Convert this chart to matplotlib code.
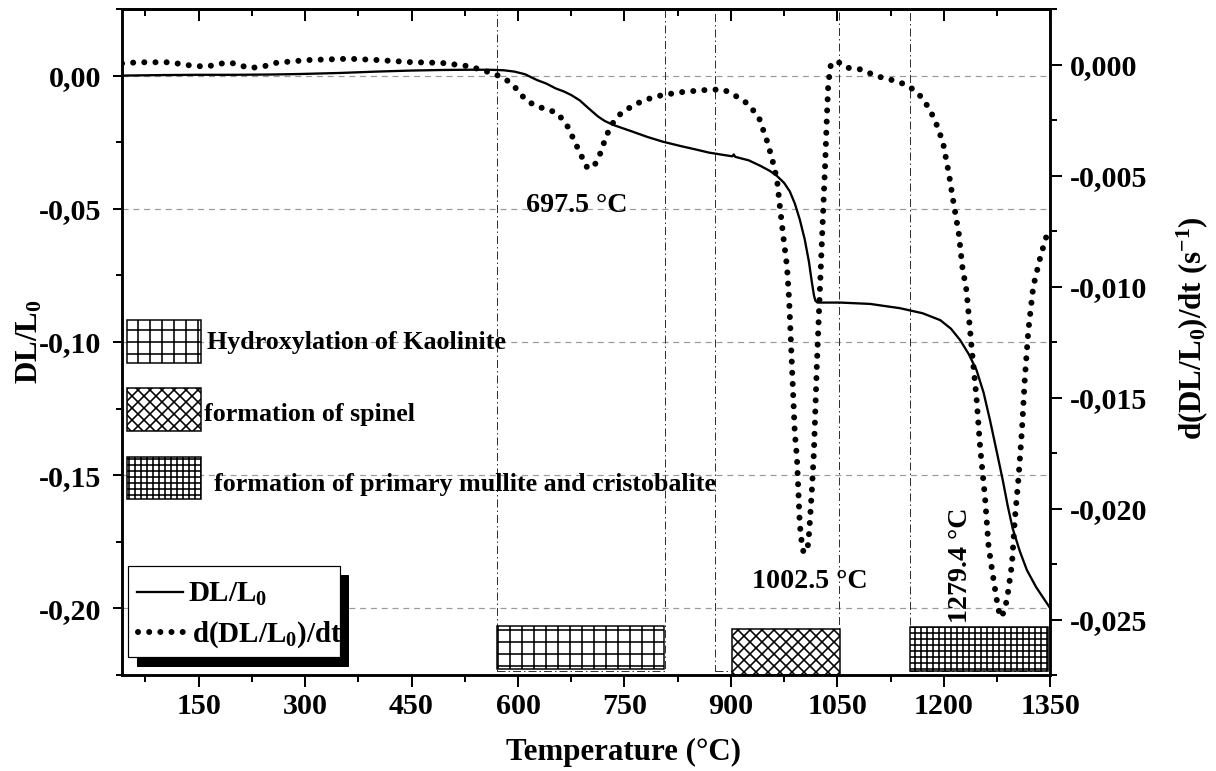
import matplotlib
matplotlib.use('Agg')
import matplotlib.pyplot as plt
from matplotlib.patches import Rectangle
from matplotlib.ticker import MultipleLocator, FuncFormatter

# dilatometrie : retrait DL/L0 et sa derivee
temp_dl = [42, 100, 150, 200, 250, 293, 350, 400, 450, 490, 530, 560, 580, 595,
           610, 627, 640, 653, 665, 675, 687, 697, 706, 713, 722, 734, 748, 761,
           782, 804, 830, 850, 869, 890, 902, 904, 906, 925, 941, 955, 965, 975,
           983, 990, 997, 1004, 1010, 1014, 1017, 1019, 1022, 1054, 1096, 1138,
           1170, 1195, 1210, 1223, 1235, 1246, 1256, 1265, 1274, 1283, 1290,
           1297, 1307, 1317, 1330, 1340, 1350]
dl = [0.0000, 0.0002, 0.0003, 0.0003, 0.0004, 0.0006, 0.0010, 0.0015, 0.0019,
      0.0021, 0.0022, 0.0022, 0.0020, 0.0015, 0.0005, -0.0017, -0.0030, -0.0048,
      -0.0060, -0.0073, -0.0093, -0.0117, -0.0138, -0.0154, -0.0170, -0.0185,
      -0.0198, -0.0210, -0.0230, -0.0248, -0.0265, -0.0277, -0.0289, -0.0298,
      -0.0303, -0.0296, -0.0305, -0.0318, -0.0338, -0.0358, -0.0377, -0.0403,
      -0.0435, -0.0480, -0.0540, -0.0615, -0.0700, -0.0775, -0.0825, -0.0845,
      -0.0852, -0.0852, -0.0857, -0.0873, -0.0892, -0.0918, -0.0950, -0.0993,
      -0.1045, -0.1105, -0.1190, -0.1293, -0.1405, -0.1518, -0.1615, -0.1700,
      -0.1785, -0.1856, -0.1920, -0.1960, -0.2000]

temp_d = [42, 65, 87, 110, 132, 160, 188, 200, 221, 240, 260, 303, 362, 403,
          447, 493, 529, 550, 570, 584, 597, 611, 627, 640, 656, 670, 681, 692,
          698, 708, 716, 724, 732, 745, 761, 778, 804, 834, 864, 888, 901, 923,
          939, 952, 960, 965, 969, 974, 979, 982, 984, 986, 988, 990, 993, 995,
          997, 1000, 1002.5, 1006, 1009, 1011, 1014, 1017, 1021, 1024.5, 1028,
          1031, 1033, 1035, 1037, 1040, 1043, 1047, 1052, 1060, 1068, 1083,
          1105, 1127, 1148, 1164, 1180, 1191, 1199, 1207, 1213, 1221, 1226,
          1232, 1239, 1246, 1251, 1258, 1263, 1270, 1276, 1279.4, 1284, 1289,
          1296, 1300, 1305, 1310, 1314, 1319, 1326, 1335, 1342, 1347]
ddl = [0.00005, 0.0001, 0.0001, 0.0001, -0.00002, -0.0001, 0.00008, 0.00005,
       -0.00016, -0.0001, 0.00008, 0.0002, 0.00026, 0.0002, 0.00011, 0.00007,
       -0.00007, -0.00025, -0.00047, -0.0007, -0.00107, -0.0016, -0.0019,
       -0.0020, -0.0022, -0.0028, -0.00355, -0.0043, -0.00468, -0.00453,
       -0.0040, -0.00325, -0.0027, -0.0022, -0.00187, -0.0016, -0.00137,
       -0.00123, -0.00115, -0.00112, -0.0013, -0.00175, -0.00235, -0.00355,
       -0.0045, -0.0052, -0.0064, -0.0078, -0.0091, -0.0106, -0.0121, -0.0136,
       -0.0151, -0.0166, -0.0177, -0.0192, -0.0207, -0.0216, -0.0220, -0.0219,
       -0.0216, -0.0207, -0.0192, -0.0174, -0.0136, -0.0108, -0.0081, -0.0058,
       -0.0043, -0.0025, -0.0010, -0.0001, 0.0001, 0.00013, 0.0001, -0.0001,
       -0.00017, -0.00022, -0.00052, -0.0007, -0.00092, -0.0013, -0.0020,
       -0.0028, -0.00355, -0.0049, -0.0061, -0.0076, -0.0091, -0.0102, -0.0127,
       -0.0150, -0.0172, -0.0195, -0.0217, -0.0232, -0.0244, -0.0249, -0.0247,
       -0.0241, -0.0225, -0.0205, -0.0187, -0.0165, -0.0142, -0.0120, -0.0100,
       -0.0088, -0.0080, -0.0075]

# zones de transformation (debut, fin) en degC
zones = [(570, 807), (878, 1052), (1152, 1350)]
boxes = [(570, 806, -0.2228, -0.2065, '+'),
         (901, 1053, -0.2250, -0.2078, 'xx'),
         (1152, 1347, -0.2235, -0.2068, '++')]
zone_labels = ['Hydroxylation of Kaolinite', 'formation of spinel',
               'formation of primary mullite and cristobalite']
peaks = ['697.5 °C', '1002.5 °C', '1279.4 °C']

plt.rcParams['font.family'] = ['Liberation Serif', 'DejaVu Serif']
plt.rcParams['font.weight'] = 'bold'
plt.rcParams['mathtext.fontset'] = 'custom'
plt.rcParams['mathtext.rm'] = 'Liberation Serif:bold'
plt.rcParams['mathtext.bf'] = 'Liberation Serif:bold'
plt.rcParams['mathtext.it'] = 'Liberation Serif:bold:italic'
plt.rcParams['mathtext.default'] = 'bf'
plt.rcParams['hatch.linewidth'] = 1.6
plt.rcParams['hatch.color'] = 'black'

DOTS = (0, (0.01, 1.85))

fig = plt.figure(figsize=(1216 / 72, 771 / 72), dpi=72)
ax = fig.add_axes([0.10033, 0.12451, 0.76340, 0.86381])
ax2 = ax.twinx()

ax.set_xlim(42, 1350)
ax.set_ylim(-0.225, 0.025)
ax2.set_ylim(-0.0275, 0.0025)

# grille horizontale
ax.set_yticks([0, -0.05, -0.10, -0.15, -0.20])
ax.yaxis.grid(True, linestyle=(0, (5, 4)), color='#9a9a9a', lw=1.2)
ax.set_axisbelow(True)

# zones en tirets-points + rectangles hachures
for x0, x1 in zones:
    ax.add_patch(Rectangle((x0, -0.2235), x1 - x0, 0.2485, fill=False,
                           edgecolor='#333333', lw=1.0,
                           linestyle=(0, (8, 3, 1.5, 3)), zorder=1))
for x0, x1, y0, y1, h in boxes:
    ax.add_patch(Rectangle((x0, y0), x1 - x0, y1 - y0, facecolor='white',
                           edgecolor='black', lw=1.5, hatch=h, zorder=2))

ax.plot(temp_dl, dl, color='black', lw=2.3, zorder=3)
ax2.plot(temp_d, ddl, color='black', lw=6, linestyle=DOTS,
         dash_capstyle='round', zorder=3)

# petites boites de legende des zones
key_y = [(0.469, 0.533), (0.3668, 0.4305), (0.2638, 0.3278)]
text_pos = [(0.0916, 0.4895), (0.0883, 0.3819), (0.0991, 0.2767)]
for (y0, y1), (_, _, _, _, h), lab, (tx, ty) in zip(key_y, boxes, zone_labels, text_pos):
    ax.add_patch(Rectangle((0.0057, y0), 0.0798, y1 - y0, transform=ax.transAxes,
                           facecolor='white', edgecolor='black', lw=1.5,
                           hatch=h, zorder=4))
    ax.text(tx, ty, lab, transform=ax.transAxes, fontsize=26,
            fontweight='bold', va='baseline', ha='left', zorder=5)

# temperatures des pics
ax.text(683, -0.0511, peaks[0], fontsize=28, ha='center', va='baseline')
ax.text(1011, -0.1925, peaks[1], fontsize=28, ha='center', va='baseline')
ax.text(1223, -0.1837, peaks[2], fontsize=28, ha='center', va='center',
        rotation=90)

# legende avec ombre
ax2.add_patch(Rectangle((0.0157, 0.0139), 0.228, 0.1366, transform=ax2.transAxes,
                        facecolor='black', edgecolor='black', zorder=10))
ax2.add_patch(Rectangle((0.0068, 0.027), 0.228, 0.1366, transform=ax2.transAxes,
                        facecolor='white', edgecolor='black', lw=1.2, zorder=11))
ax2.plot([0.0165, 0.0657], [0.1246, 0.1246], transform=ax2.transAxes,
         color='black', lw=2.3, zorder=12, clip_on=False)
ax2.plot([0.01724, 0.0668], [0.0646, 0.0646], transform=ax2.transAxes,
         color='black', lw=6, linestyle=DOTS, dash_capstyle='round',
         zorder=12, clip_on=False)
ax2.text(0.0714, 0.1096, 'DL/L$_0$', transform=ax2.transAxes, fontsize=29,
         va='baseline', zorder=13)
ax2.text(0.075, 0.0495, 'd(DL/L$_0$)/dt', transform=ax2.transAxes, fontsize=29,
         va='baseline', zorder=13)

# axes et graduations
ax.xaxis.set_major_locator(MultipleLocator(150))
ax.xaxis.set_minor_locator(MultipleLocator(75))
ax.yaxis.set_minor_locator(MultipleLocator(0.025))
ax2.set_yticks([0, -0.005, -0.010, -0.015, -0.020, -0.025])
ax2.yaxis.set_minor_locator(MultipleLocator(0.0025))

ax.yaxis.set_major_formatter(FuncFormatter(lambda v, p: f'{round(v, 3):.2f}'.replace('.', ',')))
ax2.yaxis.set_major_formatter(FuncFormatter(lambda v, p: f'{round(v, 4):.3f}'.replace('.', ',')))

ax.tick_params(axis='x', which='major', direction='out', length=12, width=2,
               pad=6, labelsize=30)
ax.tick_params(axis='x', which='minor', direction='out', length=7, width=2)
ax.tick_params(axis='y', which='major', direction='out', length=9, width=2,
               pad=12, labelsize=30)
ax.tick_params(axis='y', which='minor', direction='out', length=6, width=2)
ax2.tick_params(axis='y', which='major', direction='out', length=12, width=2,
                pad=8, labelsize=30)
ax2.tick_params(axis='y', which='minor', direction='out', length=7, width=2)

top = ax.secondary_xaxis('top')
top.xaxis.set_major_locator(MultipleLocator(150))
top.xaxis.set_minor_locator(MultipleLocator(75))
top.tick_params(which='major', direction='in', length=12, width=2, labeltop=False)
top.tick_params(which='minor', direction='in', length=7, width=2)
top.spines['top'].set_linewidth(2.5)

for a in (ax, ax2):
    for s in a.spines.values():
        s.set_linewidth(2.5)

ax.set_xlabel('Temperature (°C)', fontsize=31, fontweight='bold')
ax.xaxis.set_label_coords(0.54, -0.095)
ax.set_ylabel('DL/L$_0$', fontsize=31, fontweight='bold')
ax.yaxis.set_label_coords(-0.084, 0.5)
ax2.set_ylabel('d(DL/L$_0$)/dt (s$^{-1}$)', fontsize=31, fontweight='bold')
ax2.yaxis.set_label_coords(1.134, 0.521)

fig.savefig('out.png', dpi=72)
